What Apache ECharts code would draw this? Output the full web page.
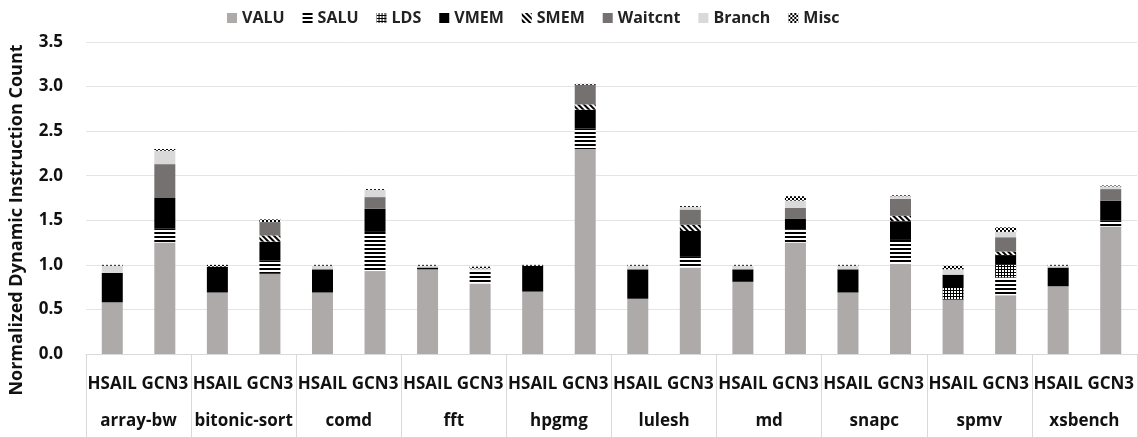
<!DOCTYPE html>
<html>
<head>
<meta charset="utf-8">
<script src="https://cdn.jsdelivr.net/npm/echarts@6/dist/echarts.min.js"></script>
<style>
  html, body { margin: 0; padding: 0; background: #fff; }
  #chart { width: 1138px; height: 437px; }
</style>
</head>
<body>
<div id="chart"></div>
<script>
// benchmarks, each with an HSAIL and a GCN3 bar
var benchmarks = ['array-bw', 'bitonic-sort', 'comd', 'fft', 'hpgmg', 'lulesh', 'md', 'snapc', 'spmv', 'xsbench'];
var isas = ['HSAIL', 'GCN3'];
var yTicks = [0, 0.5, 1.0, 1.5, 2.0, 2.5, 3.0, 3.5];

// segment heights, order: bw-H, bw-G, bitonic-H, bitonic-G, comd-H, comd-G, fft-H, fft-G, hpgmg-H, hpgmg-G,
//                         lulesh-H, lulesh-G, md-H, md-G, snapc-H, snapc-G, spmv-H, spmv-G, xsbench-H, xsbench-G
var VALU    = [0.58, 1.25, 0.69, 0.90, 0.69, 0.93, 0.95, 0.79, 0.70, 2.30, 0.62, 0.97, 0.81, 1.25, 0.69, 1.01, 0.61, 0.66, 0.76, 1.43];
var SALU    = [0,    0.16, 0,    0.15, 0,    0.44, 0,    0.15, 0,    0.23, 0,    0.12, 0,    0.15, 0,    0.27, 0,    0.20, 0,    0.07];
var LDS     = [0,    0,    0,    0,    0,    0,    0,    0,    0,    0,    0,    0,    0,    0,    0,    0,    0.13, 0.14, 0,    0];
var VMEM    = [0.33, 0.34, 0.29, 0.21, 0.26, 0.26, 0.02, 0,    0.29, 0.21, 0.33, 0.29, 0.14, 0.12, 0.26, 0.21, 0.15, 0.11, 0.21, 0.22];
var SMEM    = [0,    0,    0,    0.07, 0,    0,    0,    0,    0,    0.06, 0,    0.07, 0,    0,    0,    0.06, 0,    0.04, 0,    0];
var Waitcnt = [0,    0.38, 0,    0.15, 0,    0.13, 0,    0,    0,    0.22, 0,    0.17, 0,    0.12, 0,    0.19, 0,    0.16, 0,    0.13];
var Branch  = [0.08, 0.15, 0,    0,    0.04, 0.08, 0.02, 0.02, 0,    0,    0.04, 0.03, 0.04, 0.08, 0.04, 0.03, 0.06, 0.06, 0.02, 0.03];
var Misc    = [0.01, 0.02, 0.02, 0.03, 0.01, 0.01, 0.01, 0.02, 0.01, 0.01, 0.01, 0.01, 0.01, 0.05, 0.01, 0.01, 0.04, 0.05, 0.01, 0.01];

var subCats = [];
benchmarks.forEach(function () { subCats.push(isas[0], isas[1]); });

var font = '"Open Sans", "Noto Sans", sans-serif';

var stripesH = { symbol: 'rect', symbolSize: 1, color: '#000', dashArrayX: [1, 0], dashArrayY: [2, 2], rotation: 0 };
var gridPat = { symbol: 'rect', symbolSize: 1, color: '#fff', dashArrayX: [2, 1], dashArrayY: [2, 1], rotation: 0 };
var stripesD = { symbol: 'rect', symbolSize: 1, color: '#000', dashArrayX: [1, 0], dashArrayY: [2, 2], rotation: Math.PI / 4 };
var checker = { symbol: 'rect', symbolSize: 1, color: '#000', dashArrayX: [[2, 2], [0, 2, 2, 0]], dashArrayY: [2, 0], rotation: 0 };

var seriesDefs = [
  { name: 'VALU', data: VALU, color: '#aeaaaa' },
  { name: 'SALU', data: SALU, color: '#fff', decal: stripesH },
  { name: 'LDS', data: LDS, color: '#000', decal: gridPat },
  { name: 'VMEM', data: VMEM, color: '#000' },
  { name: 'SMEM', data: SMEM, color: '#fff', decal: stripesD },
  { name: 'Waitcnt', data: Waitcnt, color: '#767171' },
  { name: 'Branch', data: Branch, color: '#d9d9d9' },
  { name: 'Misc', data: Misc, color: '#fff', decal: checker }
];

var chart = echarts.init(document.getElementById('chart'));

var option = {
  animation: false,
  legend: {
    top: 5,
    left: 222,
    icon: 'rect',
    itemWidth: 10,
    itemHeight: 10,
    itemGap: 18,
    textStyle: { fontFamily: font, fontWeight: 'bold', fontSize: 16, color: '#222' },
    data: seriesDefs.map(function (s) { return s.name; })
  },
  grid: { left: 80, right: 1, top: 42, bottom: 83 },
  xAxis: [{
    type: 'category',
    data: subCats,
    axisLine: { show: true, lineStyle: { color: '#d9d9d9' } },
    axisTick: { show: false },
    axisLabel: { interval: 0, margin: 22, fontFamily: font, fontWeight: 'bold', fontSize: 17, color: '#111' }
  }, {
    type: 'category',
    data: benchmarks,
    position: 'bottom',
    axisLine: { show: false },
    axisTick: { show: true, length: 83, lineStyle: { color: '#d9d9d9' } },
    axisLabel: { interval: 0, margin: 59, fontFamily: font, fontWeight: 'bold', fontSize: 17, color: '#111' }
  }],
  yAxis: {
    type: 'value',
    min: 0,
    max: 3.5,
    interval: 0.5,
    name: 'Normalized Dynamic Instruction Count',
    nameLocation: 'middle',
    nameGap: 60,
    nameTextStyle: { fontFamily: font, fontWeight: 'bold', fontSize: 18, color: '#111', padding: [0, 44, 0, 0] },
    axisLine: { show: false },
    axisTick: { show: false },
    splitLine: { lineStyle: { color: '#e4e4e4' } },
    axisLabel: {
      margin: 23,
      fontFamily: font, fontWeight: 'bold', fontSize: 17, color: '#111',
      formatter: function (v) { return v.toFixed(1); }
    }
  },
  series: seriesDefs.map(function (s) {
    var style = { color: s.color };
    if (s.decal) style.decal = s.decal;
    return {
      name: s.name,
      type: 'bar',
      stack: 'total',
      xAxisIndex: 0,
      barWidth: 21,
      itemStyle: style,
      data: s.data
    };
  })
};
chart.setOption(option);
</script>
</body>
</html>
